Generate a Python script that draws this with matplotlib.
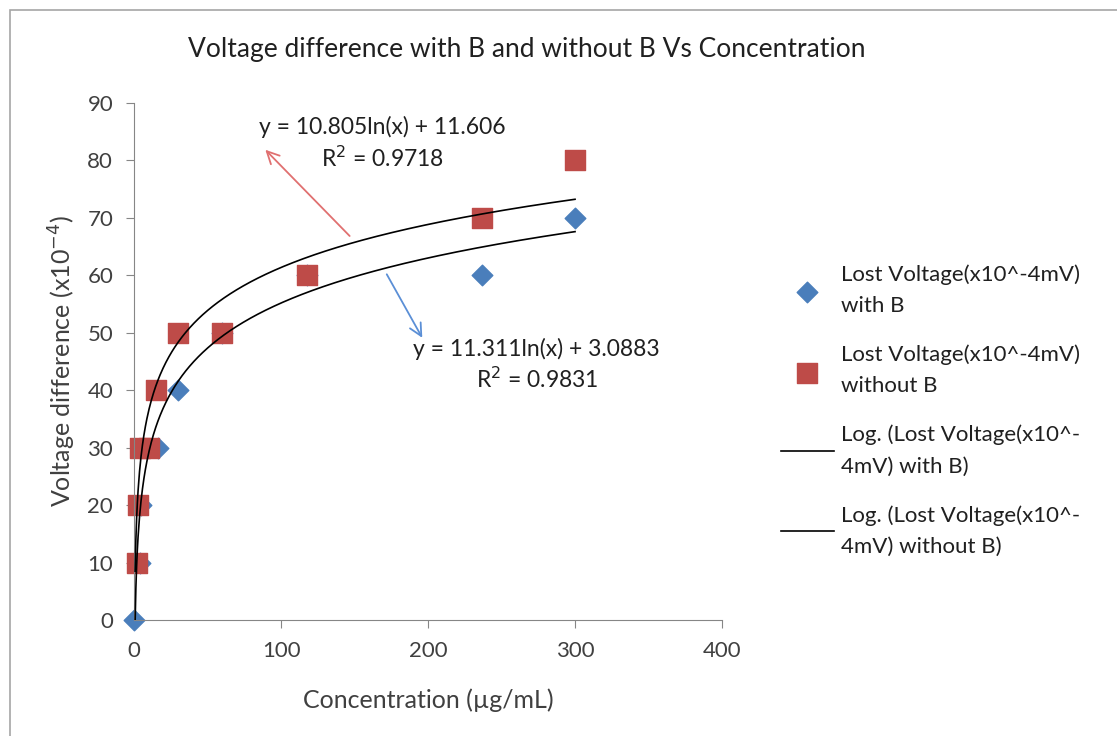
import numpy as np
import matplotlib
matplotlib.use("Agg")
import matplotlib.pyplot as plt
from matplotlib.patches import Rectangle

plt.rcParams["font.family"] = ["Lato", "DejaVu Sans"]

# data
conc_with_b = [0, 4, 5, 16, 30, 60, 118, 237, 300]
volt_with_b = [0, 10, 20, 30, 40, 50, 60, 60, 70]
conc_without_b = [2, 3, 4, 10, 15, 30, 60, 118, 237, 300]
volt_without_b = [10, 20, 30, 30, 40, 50, 50, 60, 70, 80]

# trendline coefficients from the chart labels
fit_with_b = (11.311, 3.0883)
fit_without_b = (10.805, 11.606)

blue = "#4a7ebb"
red = "#be4b48"
gray = "#868686"

fig = plt.figure(figsize=(11.17, 7.36), dpi=100)
fig.add_artist(Rectangle((0.009, -0.01), 1.1, 0.997, transform=fig.transFigure,
                         fill=False, edgecolor="#a6a6a6", linewidth=1.2))
ax = fig.add_axes([0.12, 0.1576, 0.5264, 0.7025])

xs = np.linspace(0.75, 300, 600)
ax.plot(xs, fit_with_b[0] * np.log(xs) + fit_with_b[1], color="black", lw=1.2,
        label="Log. (Lost Voltage(x10^-\n4mV) with B)", zorder=3)
ax.plot(xs, fit_without_b[0] * np.log(xs) + fit_without_b[1], color="black", lw=1.2,
        label="Log. (Lost Voltage(x10^-\n4mV) without B)", zorder=3)
ax.scatter(conc_with_b, volt_with_b, marker="D", s=110, color=blue, zorder=2,
           clip_on=False, label="Lost Voltage(x10^-4mV)\nwith B")
ax.scatter(conc_without_b, volt_without_b, marker="s", s=200, color=red, zorder=2,
           clip_on=False, label="Lost Voltage(x10^-4mV)\nwithout B")

ax.set_xlim(0, 400)
ax.set_ylim(0, 90)
ax.set_xticks(range(0, 401, 100))
ax.set_yticks(range(0, 91, 10))
for s in ["top", "right"]:
    ax.spines[s].set_visible(False)
for s in ["left", "bottom"]:
    ax.spines[s].set_color(gray)
ax.tick_params(colors=gray, labelcolor="#404040", labelsize=16, length=6, pad=9)

ax.set_xlabel("Concentration (µg/mL)", fontsize=18, color="#404040", labelpad=20)
ax.set_ylabel("Voltage difference (x10$^{-4}$)", fontsize=18, color="#404040", labelpad=7)
fig.suptitle("Voltage difference with B and without B Vs Concentration",
             x=0.472, y=0.95, fontsize=19, color="#202020")

# equation labels with arrows
ax.annotate("", xy=(88, 82.2), xytext=(148, 66.5),
            arrowprops=dict(arrowstyle="->", color="#e07070", lw=1.3, mutation_scale=22))
ax.annotate("", xy=(197, 48.7), xytext=(171, 60.6),
            arrowprops=dict(arrowstyle="->", color="#5b8fd6", lw=1.3, mutation_scale=22))
ax.text(169, 83, "y = 10.805ln(x) + 11.606\nR$^2$ = 0.9718", ha="center", va="center",
        fontsize=16.5, color="#202020", linespacing=1.35)
ax.text(274, 44.4, "y = 11.311ln(x) + 3.0883\nR$^2$ = 0.9831", ha="center", va="center",
        fontsize=16.5, color="#202020", linespacing=1.35)

handles, labels = ax.get_legend_handles_labels()
order = [2, 3, 0, 1]
leg = fig.legend([handles[i] for i in order], [labels[i] for i in order],
                 loc="upper left", bbox_to_anchor=(0.681, 0.668), frameon=False,
                 fontsize=16, labelspacing=1.28, handlelength=2.4, handletextpad=0.3,
                 labelcolor="#202020")
for t in leg.get_texts():
    t.set_linespacing(1.7)

fig.savefig("out.png", dpi=100)
